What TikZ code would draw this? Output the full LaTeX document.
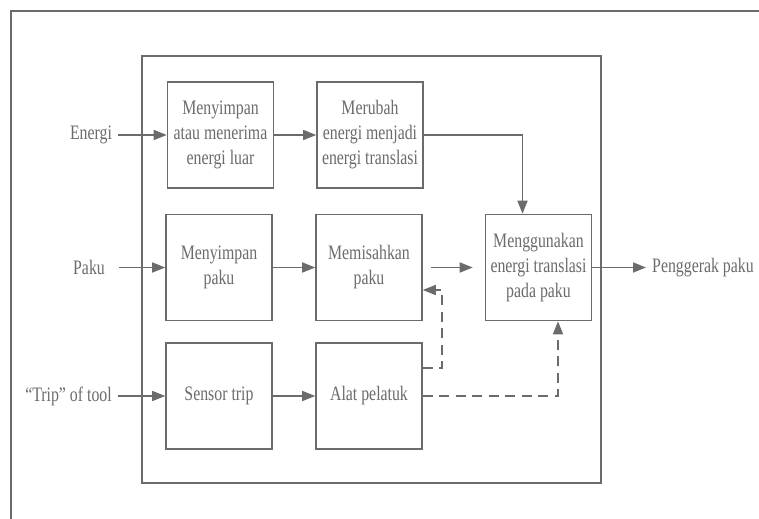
\documentclass[tikz,border=0pt]{standalone}
\usepackage{fontspec}
\setmainfont[FakeStretch=0.77]{Liberation Serif}
\usetikzlibrary{arrows.meta}
\colorlet{ln}{black!58}
\begin{document}
\begin{tikzpicture}[x=0.02cm,y=-0.02cm,>={Triangle[length=0.26cm,width=0.2cm]},
every node/.style={text=ln,font=\fontsize{11.7}{14.2}\selectfont},
blok/.style={draw=ln,line width=0.9pt,minimum width=2.12cm,minimum height=2.12cm,align=center,inner sep=1pt},
arr/.style={->,color=ln,line width=0.9pt},
darr/.style={arr,dash pattern=on 0.2cm off 0.13cm}]
\useasboundingbox (0,0) rectangle (759,519);
\draw[ln,line width=1.1pt](759,11)--(11,11)--(11,519);
\draw[ln,line width=0.9pt](142,56) rectangle (600.7,483);

\node[blok] (simpanE) at (220.5,135) {Menyimpan\\atau menerima\\energi luar};
\node[blok] (ubah) at (370,135) {Merubah\\energi menjadi\\energi translasi};
\node[blok] (simpanP) at (219,267.5) {Menyimpan\\paku};
\node[blok] (pisah) at (369,267.5) {Memisahkan\\paku};
\node[blok] (sensor) at (219,396) {Sensor trip};
\node[blok] (alat) at (369,396) {Alat pelatuk};
\node[blok] (pakai) at (538.5,267.5) {Menggunakan\\energi translasi\\pada paku};

\node (energi) at (91,135) {Energi};
\node (paku) at (89,267.5) {Paku};
\node (trip) at (68.5,396) {``Trip'' of tool};
\node[anchor=west] (gerak) at (646,267.5) {Penggerak paku};

\draw[arr](energi)--(simpanE);
\draw[arr](simpanE)--(ubah);
\draw[arr,shorten <=0.16cm](paku)--(simpanP);
\draw[arr](simpanP)--(pisah);
\draw[arr](trip)--(sensor);
\draw[arr](sensor)--(alat);
\draw[arr](ubah.east)-|([shift={(-16,0)}]pakai.north);
\draw[arr,shorten <=0.16cm,shorten >=0.24cm](pisah)--(pakai);
\draw[arr](pakai)--(gerak);
\draw[darr]([shift={(0,-28)}]alat.east)--++(19.5,0)|-([shift={(0,22.5)}]pisah.east);
\draw[darr](alat.east)-|([shift={(19.5,0)}]pakai.south);
\end{tikzpicture}
\end{document}
